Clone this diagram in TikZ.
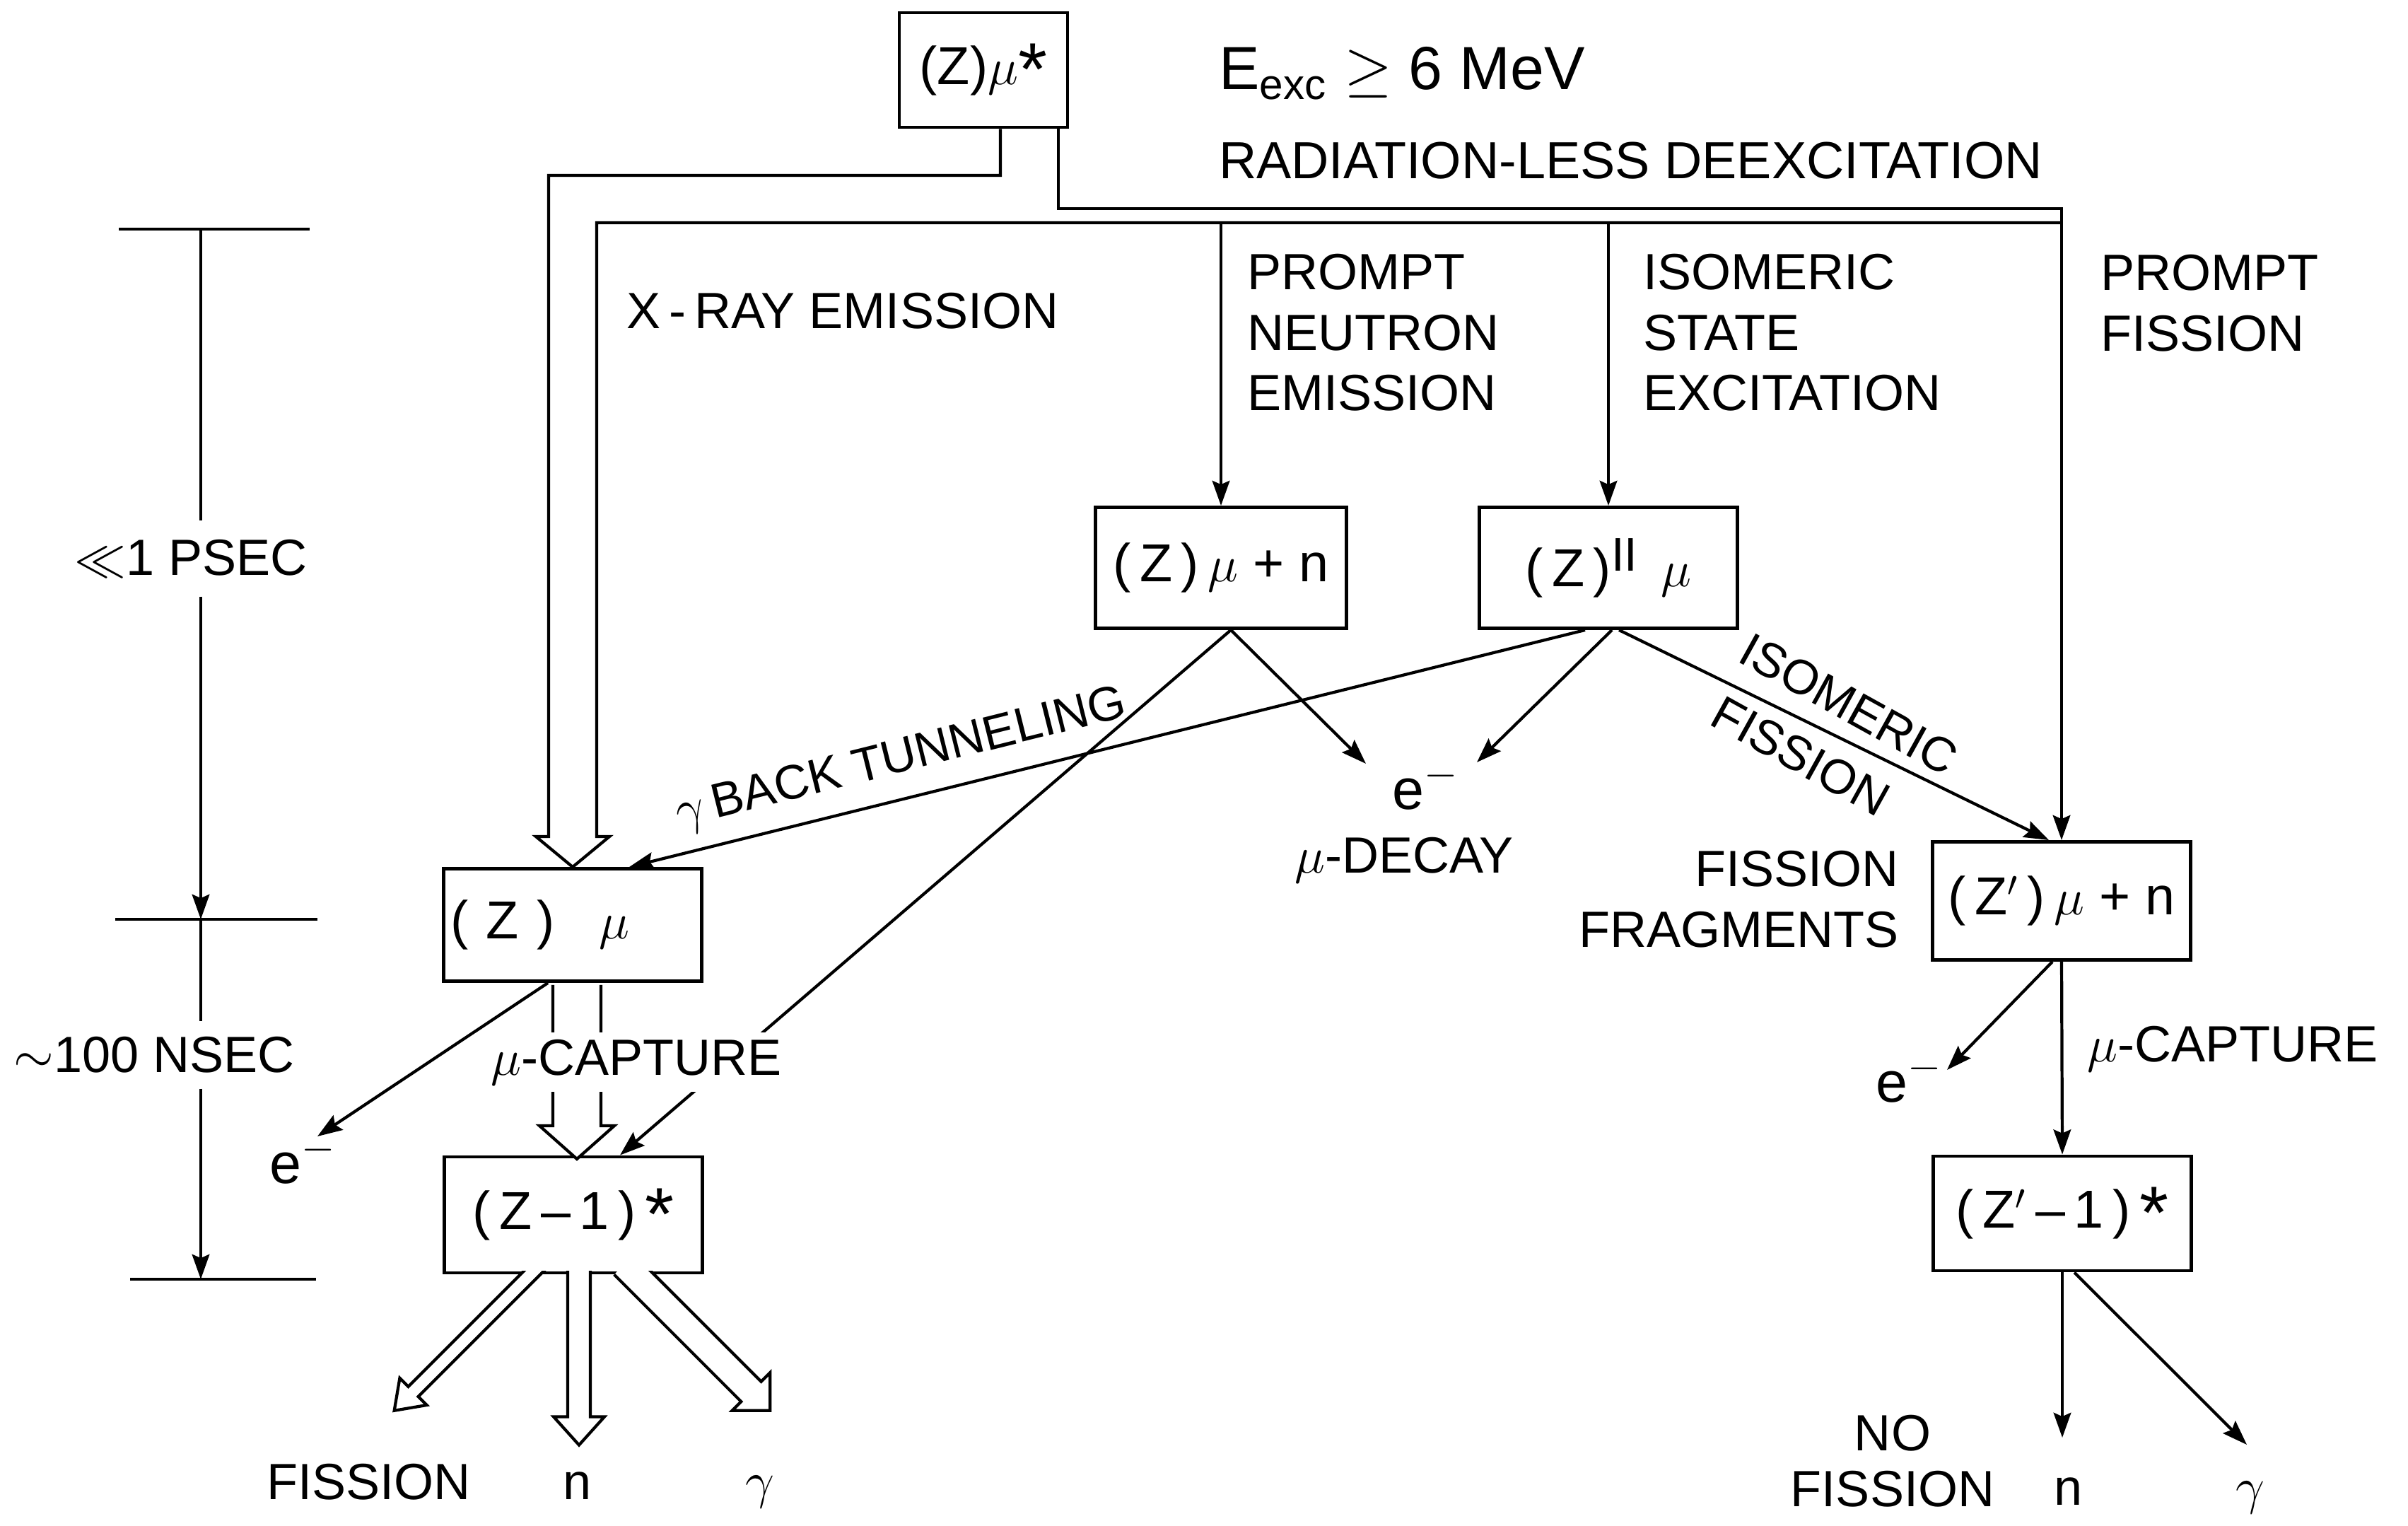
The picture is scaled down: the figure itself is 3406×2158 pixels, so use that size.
\documentclass[tikz,border=0pt]{standalone}
\usepackage{fontspec}
\setmainfont{Liberation Sans}
\usetikzlibrary{arrows.meta,calc}

% open (hollow) arrow: length/half shaft/half head/head length/start
\tikzset{
  pics/hollow/.style args={#1/#2/#3/#4/#5}{code={
    \fill[white] (#5,-#2) -- ({#1-#4},-#2) -- ({#1-#4},-#3) -- (#1,0)
      -- ({#1-#4},#3) -- ({#1-#4},#2) -- (#5,#2) -- cycle;
    \draw (#5,-#2) -- ({#1-#4},-#2) -- ({#1-#4},-#3) -- (#1,0)
      -- ({#1-#4},#3) -- ({#1-#4},#2) -- (#5,#2);
  }}
}
\newcommand\bigstar{\raisebox{-1.5mm}{\fontsize{30}{30}\selectfont *}}
\newcommand\romtwo{\raisebox{2.2mm}{\fontsize{19}{19}\selectfont$\mathrm{II}$}}

\begin{document}
\begin{tikzpicture}[x=0.1mm, y=-0.1mm, >={Stealth[length=10pt,width=7pt,inset=1.5pt]},
    line width=1.2pt,
    every node/.style={inner sep=0pt, font=\fontsize{20.5}{24.4}\selectfont},
    box/.style={draw, line width=1.4pt, minimum width=36.5mm, minimum height=16.4mm,
        font=\fontsize{21.5}{25}\selectfont},
    lbl/.style={align=left, anchor=north west},
    big/.style={font=\fontsize{24.5}{28}\selectfont},
    elec/.style={font=\fontsize{23}{26}\selectfont},
    tilt/.style={font=\fontsize{19.5}{23}\selectfont}]
    \useasboundingbox (0,0) rectangle (3406,2158);

    % states
    \node[box, minimum width=23.8mm, minimum height=16.2mm] (zs) at (1391,99)
        {(Z)$\mu$\bigstar};
    \node[box, minimum width=35.5mm, minimum height=17.1mm] (zn) at (1727,803) {(\,Z\,)\,$\mu$ + n};
    \node[box, minimum height=17.1mm] (zi) at (2275,803) {(\,Z\,)\romtwo\ \,$\mu$};
    \node[box, minimum height=15.9mm] (zm) at (810,1308) {(\,\,Z\,\,)\ \ \ $\mu$\hspace{9.2mm}\mbox{}};
    \node[box] (zc) at (811,1718) {(\,Z\,--\,1\,)\,\bigstar};
    \node[box, minimum height=16.7mm] (zf) at (2916,1274) {(\,Z$'$\,)\,$\mu$ + n};
    \node[box, minimum height=16.2mm] (zfc) at (2917,1716) {(\,Z$'$\,--\,1\,)\,\bigstar};

    % texts
    \node[big, anchor=base west] (eexc) at (1722,127) {E\textsubscript{exc} $\geq$ 6 MeV};
    \node[anchor=base west, font=\fontsize{21}{25}\selectfont] (rld) at (1722,253) {RADIATION-LESS DEEXCITATION};
    \node[anchor=base west] (xray) at (884,465) {X\,-\,RAY EMISSION};
    \node[lbl] (pne) at (1762,357) {PROMPT\\NEUTRON\\EMISSION};
    \node[lbl] (ise) at (2322,357) {ISOMERIC\\STATE\\EXCITATION};
    \node[lbl] (pf) at (2969,358) {PROMPT\\FISSION};
    \node[tilt, rotate=14] (btun) at (1275,1075) {$\gamma$\,BACK TUNNELING};
    \node[tilt, rotate=-29] (isoa) at (2615,996) {ISOMERIC};
    \node[tilt, rotate=-29] (isob) at (2547,1069) {FISSION};
    \node[elec, anchor=base west] (em) at (1967,1144) {e$^{-}$};
    \node[anchor=base west] (mud) at (1829,1234) {$\mu$-DECAY};
    \node[elec, anchor=base west] (el) at (379,1673) {e$^{-}$};
    \node[elec, anchor=base west] (er) at (2651,1558) {e$^{-}$};
    \node[align=right, anchor=north east] (frag) at (2688,1201) {FISSION\\FRAGMENTS};
    \node[anchor=base west] (capr) at (2950,1501) {$\mu$-CAPTURE};
    \node[anchor=base west] (fis) at (375,2120) {FISSION};
    \node[anchor=base] (nl) at (817,2120) {n};
    \node[anchor=base] (gl) at (1075,2118) {$\gamma$};
    \node[align=center, anchor=north, font=\fontsize{20.5}{22.4}\selectfont] (nofis) at (2677,1999) {NO\\FISSION};
    \node[anchor=base] (nr) at (2925,2128) {n};
    \node[anchor=base] (gr) at (3183,2126) {$\gamma$};

    % time scale
    \coordinate (t0) at (284,324);
    \coordinate (t1) at (284,1300);
    \coordinate (t2) at (284,1809);
    \draw ($(t0)+(-116,0)$) -- ($(t0)+(154,0)$);
    \draw ($(t1)+(-121,0)$) -- ($(t1)+(165,0)$);
    \draw ($(t2)+(-100,0)$) -- ($(t2)+(163,0)$);
    \node[inner ysep=2.5mm] (psec) at (270,790) {$\ll$1 PSEC};
    \node[inner ysep=2mm] (nsec) at (218,1492) {$\sim$100 NSEC};
    \draw (t0) -- (t0 |- psec.north);
    \draw[->] (t0 |- psec.south) -- (t1);
    \draw (t1) -- (t1 |- nsec.north);
    \draw[->] (t1 |- nsec.south) -- (t2);

    % radiation-less deexcitation
    \draw[->] ($(zs.south)+(106,0)$) |- (zf.north |- 0,295) -- (zf.north);
    \draw[->] (zn.north |- 0,315) -- (zn.north);
    \draw[->] (zi.north |- 0,315) -- (zi.north);
    % x-ray emission (open arrow)
    \draw ($(zs.south)+(24,0)$) |- (776,248) -- (776,1183) -- (758,1183) -- (zm.north)
        -- (862,1183) -- (844,1183) |- (zf.north |- 0,315);

    % decays
    \coordinate (emL) at (1932,1080);
    \coordinate (emR) at (2089,1078);
    \coordinate (elt) at (449,1607);
    \coordinate (ert) at (2754,1513);
    \coordinate (ntip) at (zfc.south |- 0,2033);
    \coordinate (gtip) at (3178,2043);
    \draw[->] ($(zi.south)+(-33,0)$) -- ($(zm.north)+(80,0)$);
    \draw[->] ($(zn.south)+(14,0)$) -- ($(zc.north)+(66,0)$);
    \draw[->] ($(zn.south)+(14,0)$) -- (emL);
    \draw[->] ($(zi.south)+(5,0)$) -- (emR);
    \draw[->] ($(zi.south)+(15,0)$) -- ($(zf.north)+(-18,0)$);
    \draw[->] ($(zm.south)+(-35,0)$) -- (elt);
    \draw[->] ($(zf.south)+(-13,0)$) -- (ert);
    \draw[->] (zf.south) -- (zfc.north);
    \draw[->] (zfc.south) -- (ntip);
    \draw[->] ($(zfc.south)+(17,0)$) -- (gtip);

    % mu capture and fission of (Z-1)*
    \pic[rotate=-90] at ($(zm.south)+(6,0)$) {hollow=249/34/53/47/3};
    \begin{scope}
        \clip (0,1797) rectangle (3406,2158);
        \pic[rotate=-135] at ($(zc.south)+(-61,0)$) {hollow=272/10/27/38/-20};
        \pic[rotate=-90] at ($(zc.south)+(8,0)$) {hollow=241/16/36/40/-20};
        \pic[rotate=-45] at ($(zc.south)+(86,0)$) {hollow=272/20/38/38/-20};
    \end{scope}
    \node[fill=white, inner xsep=1mm, inner ysep=1mm] (capl) at (900,1502) {$\mu$-CAPTURE};
\end{tikzpicture}
\end{document}
